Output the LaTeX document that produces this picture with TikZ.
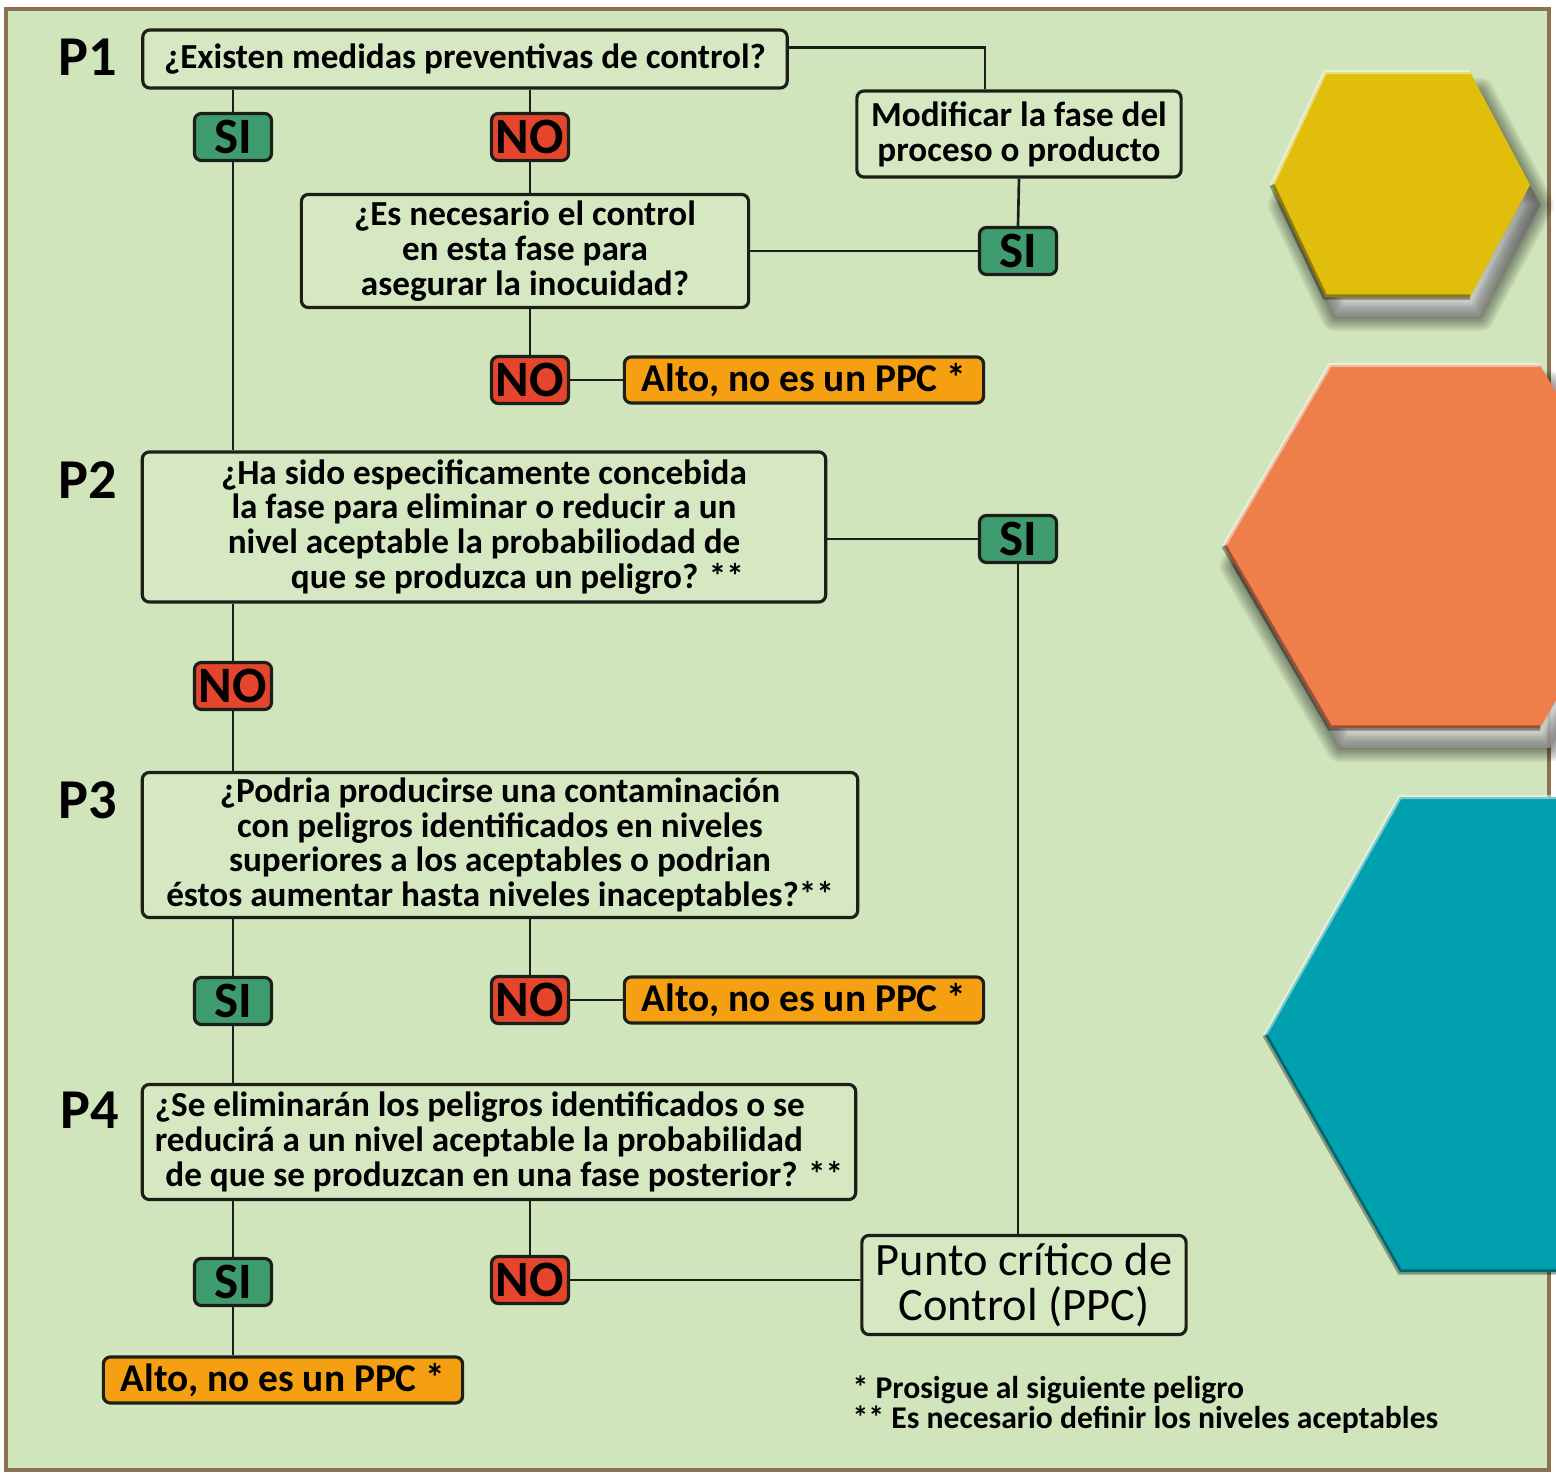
\documentclass[tikz,border=0pt]{standalone}
\usepackage{fontspec}
\setmainfont{Carlito}
\usetikzlibrary{positioning, calc}
\definecolor{bg}{HTML}{D0E5BC}
\definecolor{boxbg}{HTML}{D5E8C2}
\definecolor{ink}{HTML}{1C1F18}
\definecolor{sigreen}{HTML}{3F9C6E}
\definecolor{nored}{HTML}{E5452C}
\definecolor{altoorange}{HTML}{F4A012}
\definecolor{hexyellow}{HTML}{E2BE0C}
\definecolor{hexorange}{HTML}{EE7F4B}
\definecolor{hexteal}{HTML}{00A0AE}
\definecolor{framec}{HTML}{8A7250}
\definecolor{shade}{HTML}{4E5A40}
\tikzset{
  qbox/.style ={rectangle, draw=ink, line width=0.9pt, rounded corners=2pt, fill=boxbg, align=center, inner sep=0pt, font=\fontsize{10}{9.9}\selectfont\bfseries},
  sibox/.style={rectangle, draw=ink, line width=0.9pt, rounded corners=2pt, fill=sigreen, minimum width=0.77cm, minimum height=0.47cm, inner sep=0pt, font=\fontsize{14.5}{14.5}\selectfont\bfseries},
  nobox/.style={sibox, fill=nored},
  alto/.style ={rectangle, draw=ink, line width=0.9pt, rounded corners=2pt, fill=altoorange, minimum width=3.59cm, minimum height=0.46cm, inner sep=0pt, font=\fontsize{11.2}{11.2}\selectfont\bfseries},
  plbl/.style ={font=\fontsize{16}{16}\selectfont\bfseries, inner sep=0pt},
  ln/.style   ={draw=ink, line width=0.75pt},
}
\begin{document}
\begin{tikzpicture}[x=0.01cm, y=-0.01cm]
  \useasboundingbox (0,0) rectangle (1556,1475);
  \fill[white] (0,0) rectangle (1556,1475);
  \draw[framec, fill=bg, line width=1.2pt] (6,9) rectangle (1549,1470);
  % hexagons on the right
  \begin{scope}
    \clip (0,0) rectangle (1556,1475);
    \foreach \lt/\tl/\tr/\rt/\tp/\md/\bt/\col/\sh in {1272/1325/1470/1530/72/185/297/hexyellow/1, 1224/1330/1540/1645/365/546/728/hexorange/1, 1265/1400/1640/1780/797/1035/1272/hexteal/0}{
      \fill[shade, opacity=0.5*\sh, shift={(10,20)}] (\lt,\md) -- (\tl,\tp) -- (\tr,\tp) -- (\rt,\md) -- (\tr,\bt) -- (\tl,\bt) -- cycle;
      \foreach \w in {1,...,8}
        \draw[shade, opacity=0.06*\sh, line width=\w pt, line join=round, shift={(10,20)}] (\lt,\md) -- (\tl,\tp) -- (\tr,\tp) -- (\rt,\md) -- (\tr,\bt) -- (\tl,\bt) -- cycle;
      \fill[\col] (\lt,\md) -- (\tl,\tp) -- (\tr,\tp) -- (\rt,\md) -- (\tr,\bt) -- (\tl,\bt) -- cycle;
      \draw[white, opacity=0.45, line width=1.2pt] (\lt,\md) -- (\tl,\tp) -- (\tr,\tp);
      \draw[black, opacity=0.35, line width=1.5pt] (\lt,\md) -- (\tl,\bt) -- (\tr,\bt);
    }
  \end{scope}
  % P1
  \node[plbl] (l1) at (88,57) {P1};
  \node[qbox, minimum width=6.44cm, minimum height=0.58cm] (p1) at (465,59) {¿Existen medidas preventivas de control?};
  \node[sibox] (si1) at (233,137) {SI};
  \node[nobox] (no1) at (530,137) {NO};
  \node[qbox, minimum width=4.47cm, minimum height=1.13cm] (q1b) at (525,251) {¿Es necesario el control\\en esta fase para\\asegurar la inocuidad?};
  \node[qbox, minimum width=3.24cm, minimum height=0.86cm] (mod) at (1019,134) {Modificar la fase del\\proceso o producto};
  \node[sibox] (si2) at (1018,251) {SI};
  \node[nobox] (no2) at (530,380) {NO};
  \node[alto] (alto1) at (804,380) {Alto, no es un PPC *};
  % P2
  \node[plbl] (l2) at (88,480) {P2};
  \node[qbox, minimum width=6.83cm, minimum height=1.50cm] (p2) at (484,527) {¿Ha sido especificamente concebida\\la fase para eliminar o reducir a un\\nivel aceptable la probabiliodad de\\\hspace*{19pt}que se produzca un peligro? **};
  \node[sibox] (si3) at (1018,539) {SI};
  \node[nobox] (no3) at (233,686) {NO};
  % P3
  \node[plbl] (l3) at (88,800) {P3};
  \node[qbox, minimum width=7.15cm, minimum height=1.45cm] (p3) at (500,845) {¿Podria producirse una contaminación\\con peligros identificados en niveles\\superiores a los aceptables o podrian\\éstos aumentar hasta niveles inaceptables?**};
  \node[sibox] (si4) at (233,1001) {SI};
  \node[nobox] (no4) at (530,1000) {NO};
  \node[alto] (alto2) at (804,1000) {Alto, no es un PPC *};
  % P4
  \node[plbl] (l4) at (90,1110) {P4};
  \node[qbox, align=left, minimum width=7.13cm, minimum height=1.15cm] (p4) at (499,1142) {¿Se eliminarán los peligros identificados o se\\reducirá a un nivel aceptable la probabilidad\\\hspace*{3pt}de que se produzcan en una fase posterior? **};
  \node[sibox] (si5) at (233,1282) {SI};
  \node[nobox] (no5) at (530,1280) {NO};
  \node[qbox, minimum width=3.24cm, minimum height=0.99cm, font=\fontsize{13.2}{12.8}\selectfont] (ppc) at (1024,1285) {Punto crítico de\\Control (PPC)};
  \node[alto] (alto3) at (283,1380) {Alto, no es un PPC *};
  \node[anchor=west, align=left, inner sep=0pt, font=\fontsize{9}{8.6}\selectfont\bfseries] (notas) at (852,1405) {* Prosigue al siguiente peligro\\** Es necesario definir los niveles aceptables};
  % connectors
  \draw[ln] (p1.south -| si1) -- (si1.north);
  \draw[ln] (si1.south) -- (si1.south |- p2.north);
  \draw[ln] (p1.south -| no1) -- (no1.north);
  \draw[ln] (no1.south) -- (no1.south |- q1b.north);
  \draw[ln] (p1.2) -| ([xshift=-0.34cm]mod.north);
  \draw[ln] (mod.south) -- (si2.north);
  \draw[ln] (si2.west) -- (q1b.east);
  \draw[ln] (q1b.south -| no2) -- (no2.north);
  \draw[ln] (no2.east) -- (alto1.west);
  \draw[ln] (si3.west) -- (si3.west -| p2.east);
  \draw[ln] (si3.south) -- (si3.south |- ppc.north);
  \draw[ln] (p2.south -| no3) -- (no3.north);
  \draw[ln] (no3.south) -- (no3.south |- p3.north);
  \draw[ln] (p3.south -| si4) -- (si4.north);
  \draw[ln] (si4.south) -- (si4.south |- p4.north);
  \draw[ln] (p3.south -| no4) -- (no4.north);
  \draw[ln] (no4.east) -- (alto2.west);
  \draw[ln] (p4.south -| si5) -- (si5.north);
  \draw[ln] (si5.south) -- (si5.south |- alto3.north);
  \draw[ln] (p4.south -| no5) -- (no5.north);
  \draw[ln] (no5.east) -- (no5.east -| ppc.west);
\end{tikzpicture}
\end{document}
